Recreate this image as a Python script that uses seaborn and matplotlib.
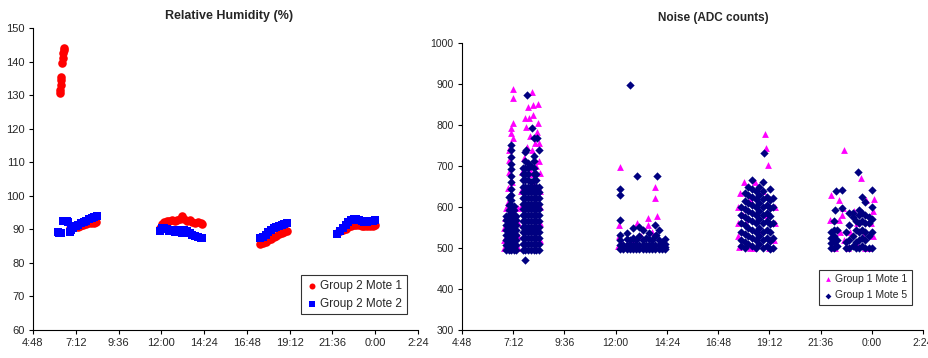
import pandas as pd
import matplotlib
matplotlib.use("Agg")
import matplotlib.pyplot as plt
import seaborn as sns
from matplotlib.ticker import FuncFormatter, MultipleLocator

# times are decimal hours of the day, values past 24 are after midnight

# Relative humidity (%), Group 2 Mote 1
rh_m1_spike = [(6.31, 130.5), (6.33, 131.5), (6.35, 133), (6.37, 134.5), (6.39, 135.5),
               (6.44, 139.5), (6.46, 141), (6.49, 142.5), (6.52, 143.5), (6.54, 144)]
rh_m1_morning = [(6.85, 90.3), (7.0, 90.5), (7.15, 90.6), (7.3, 90.8), (7.45, 91.0), (7.6, 91.3),
                 (7.75, 91.6), (7.9, 91.9), (8.05, 92.0), (8.2, 92.0), (8.35, 92.1)]
rh_m1_noon = [(11.95, 90.5), (12.05, 91.5), (12.15, 92.3), (12.3, 92.6), (12.45, 92.5), (12.6, 92.7),
              (12.75, 92.4), (12.9, 92.8), (13.05, 93.2), (13.17, 94.0), (13.3, 93.0), (13.45, 92.6),
              (13.6, 92.8), (13.75, 92.2), (13.9, 91.9), (14.05, 92.2), (14.2, 91.8), (14.3, 91.5)]
rh_m1_evening = [(17.56, 85.5), (17.7, 85.8), (17.85, 86.3), (18.0, 86.8), (18.15, 87.2), (18.3, 87.6),
                 (18.45, 88.1), (18.6, 88.5), (18.75, 88.9), (18.9, 89.3), (19.05, 89.5)]
rh_m1_night = [(21.88, 89.0), (22.05, 89.4), (22.2, 89.7), (22.35, 90.1), (22.5, 90.6), (22.65, 91.0),
               (22.8, 91.3), (22.95, 91.3), (23.1, 91.2), (23.25, 91.1), (23.4, 91.0), (23.55, 90.9),
               (23.7, 91.0), (23.85, 91.0), (24.0, 91.3)]

# Relative humidity (%), Group 2 Mote 2
rh_m2_morning = [(6.2, 89.3), (6.27, 89.0), (6.33, 88.8), (6.4, 89.0), (6.5, 92.5), (6.6, 92.4),
                 (6.7, 92.5), (6.78, 92.3), (6.85, 89.3), (6.95, 89.8), (7.05, 90.5), (7.2, 91.0),
                 (7.35, 91.4), (7.5, 91.8), (7.65, 92.2), (7.8, 92.6), (7.95, 93.0), (8.1, 93.3),
                 (8.25, 93.7), (8.4, 94.0)]
rh_m2_noon = [(11.95, 89.5), (12.05, 90.3), (12.15, 90.5), (12.3, 90.0), (12.45, 89.5), (12.6, 89.7),
              (12.75, 89.3), (12.9, 89.8), (13.05, 89.5), (13.17, 88.8), (13.3, 89.8), (13.45, 89.5),
              (13.6, 89.0), (13.75, 88.3), (13.9, 88.0), (14.05, 87.8), (14.2, 87.5), (14.3, 87.3)]
rh_m2_evening = [(17.56, 87.3), (17.7, 87.8), (17.85, 88.4), (18.0, 89.1), (18.15, 89.7), (18.3, 90.3),
                 (18.45, 90.7), (18.6, 91.1), (18.75, 91.4), (18.9, 91.6), (19.05, 91.8)]
rh_m2_night = [(21.88, 88.5), (22.05, 89.5), (22.2, 90.3), (22.35, 91.2), (22.5, 92.1), (22.65, 92.7),
               (22.8, 93.1), (22.95, 93.0), (23.1, 92.7), (23.25, 92.4), (23.4, 92.3), (23.55, 92.3),
               (23.7, 92.5), (23.85, 92.6), (24.0, 92.7)]

# Noise (ADC counts), Group 1 Mote 1 (visible points)
nz_m1_a = [(7.19, 889), (7.19, 865), (7.19, 804), (7.09, 792), (7.09, 780), (7.19, 768), (7.05, 747),
           (7.0, 715), (7.0, 686), (6.95, 646), (6.95, 613), (6.86, 597), (6.81, 572), (7.42, 597),
           (6.78, 550), (6.78, 520), (7.42, 560), (7.42, 530), (7.42, 500), (6.78, 500), (7.15, 660), (7.0, 740)]
nz_m1_b = [(8.07, 881), (7.88, 845), (8.12, 849), (8.36, 850), (8.12, 824), (7.75, 816), (7.93, 816),
           (8.36, 804), (7.79, 796), (8.31, 784), (7.98, 772), (8.22, 755), (8.4, 755), (7.84, 747),
           (8.07, 739), (8.4, 711), (8.45, 682), (7.61, 686), (8.03, 680), (8.12, 662), (7.97, 690),
           (8.47, 640), (8.47, 600), (8.47, 560), (7.58, 640), (7.58, 600), (8.25, 700), (7.7, 720), (8.47, 520)]
nz_m1_c = [(12.19, 697), (13.83, 648), (13.83, 621), (13.95, 579), (13.5, 574), (13.0, 562), (12.15, 556),
           (13.5, 556), (12.15, 530), (12.12, 505), (13.2, 530), (12.8, 520), (14.2, 510), (13.7, 540), (12.3, 510)]
nz_m1_d = [(19.02, 778), (19.03, 743), (19.13, 702), (18.0, 660), (18.55, 662), (17.85, 633), (17.8, 503),
           (18.5, 499), (17.75, 600), (17.75, 560), (17.75, 530), (19.45, 600), (19.45, 560), (19.4, 520),
           (18.3, 620), (18.9, 640), (18.1, 560), (18.7, 540), (19.1, 580), (18.3, 500), (19.2, 500), (17.95, 580)]
nz_m1_e = [(22.72, 739), (23.5, 670), (22.1, 629), (23.75, 617), (22.45, 617), (22.05, 568), (22.45, 568),
           (22.65, 597), (22.5, 540), (22.7, 520), (22.9, 500), (23.0, 540), (23.3, 560), (23.3, 510),
           (23.6, 530), (23.7, 500), (23.95, 560), (24.05, 530), (24.05, 590), (23.85, 500), (22.6, 580),
           (23.15, 590), (24.1, 620), (22.3, 500)]

# Noise (ADC counts), Group 1 Mote 5: dense columns (time -> readings) plus stray points
nz_m5_a_cols = [6.85, 6.98, 7.11, 7.23, 7.35]
nz_m5_a_vals = [[496, 508, 520, 532, 544, 556, 568, 578],
                [496, 508, 520, 532, 544, 556, 568, 580, 592, 604, 625],
                [496, 508, 520, 532, 544, 556, 568, 580, 592, 604, 616, 630, 645, 660, 676, 692, 705, 722, 738, 752],
                [496, 508, 520, 532, 544, 556, 568, 580, 592, 602],
                [496, 508, 520, 532, 544, 556, 568, 578]]
nz_m5_b_cols = [7.64, 7.77, 7.90, 8.03, 8.16, 8.29, 8.40]
nz_m5_b_vals = [[496, 510, 524, 538, 552, 566, 580, 594, 608, 622, 636, 650, 665, 680, 695],
                [496, 510, 524, 538, 552, 566, 580, 594, 608, 622, 636, 650, 665, 680, 695, 712, 733],
                [496, 510, 524, 538, 552, 566, 580, 594, 608, 622, 636, 650, 665, 680, 695, 708],
                [496, 510, 524, 538, 552, 566, 580, 594, 608, 622, 636, 650, 662, 700],
                [496, 510, 524, 538, 552, 566, 580, 594, 608, 622, 636, 650, 665, 680, 695, 712, 725],
                [496, 510, 524, 538, 552, 566, 580, 594, 608, 622, 636, 650, 665, 680],
                [496, 510, 524, 538, 552, 566, 580, 594, 608, 622, 636, 650]]
nz_m5_c_cols = [12.21, 12.36, 12.51, 12.66, 12.81, 12.96, 13.11, 13.26, 13.41, 13.56, 13.71, 13.86, 14.01, 14.16, 14.31]
nz_m5_c_vals = [[497, 508, 520], [497, 508], [497, 508, 522, 536], [497, 508, 520], [497, 508, 525, 548],
                [497, 508, 520], [497, 508, 530, 552], [497, 508, 520, 544], [497, 508, 525], [497, 508, 522, 536],
                [497, 508, 520], [497, 508, 530, 556], [497, 508, 520, 544], [497, 508, 515], [497, 503, 510, 521]]
nz_m5_d_cols = [17.88, 18.05, 18.22, 18.39, 18.56, 18.73, 18.90, 19.07, 19.24, 19.36]
nz_m5_d_vals = [[505, 520, 540, 560, 580, 600],
                [500, 515, 535, 555, 575, 595, 615, 635],
                [510, 530, 550, 570, 590, 610, 630, 650],
                [505, 525, 545, 565, 585, 605, 625, 645, 666],
                [500, 520, 540, 560, 580, 600, 620, 640],
                [510, 530, 550, 570, 590, 610, 630, 650],
                [500, 520, 540, 560, 580, 600, 620, 640, 662],
                [505, 525, 545, 565, 585, 605, 625],
                [498, 518, 538, 558, 578, 598, 618, 645],
                [500, 525, 560, 599, 621]]
nz_m5_e_cols = [22.1, 22.22, 22.35, 22.8, 22.95, 23.1, 23.25, 23.4, 23.55, 23.7, 23.85, 24.0]
nz_m5_e_vals = [[500, 512, 525, 540], [500, 515, 530, 545, 565], [505, 520, 545], [500, 515, 540],
                [500, 520, 555, 585], [505, 530, 576], [500, 515, 545, 565], [500, 520, 540, 560, 580, 593],
                [505, 525, 545, 565, 585, 625], [500, 520, 540, 560, 580, 613], [500, 530, 560, 575],
                [500, 540, 570, 601, 641]]
nz_m5_strays = [(7.84, 873), (8.07, 792), (8.17, 769), (8.31, 769), (8.40, 739), (7.75, 471), (7.8, 739),
                (12.22, 532), (12.22, 568), (12.22, 629), (12.22, 643), (13.02, 676), (13.95, 676),
                (12.69, 898), (13.91, 532), (18.97, 732), (22.28, 593), (22.33, 640), (22.6, 641),
                (22.6, 597), (23.37, 686), (23.1, 585)]


def pairs_df(*groups):
    rows = [p for g in groups for p in g]
    return pd.DataFrame(rows, columns=["hour", "value"])


def cols_df(cols, vals):
    rows = [(c, v) for c, vs in zip(cols, vals) for v in vs]
    return pd.DataFrame(rows, columns=["hour", "value"])


rh_m1 = pairs_df(rh_m1_spike, rh_m1_morning, rh_m1_noon, rh_m1_evening, rh_m1_night)
rh_m2 = pairs_df(rh_m2_morning, rh_m2_noon, rh_m2_evening, rh_m2_night)
nz_m1 = pairs_df(nz_m1_a, nz_m1_b, nz_m1_c, nz_m1_d, nz_m1_e)
nz_m5 = pd.concat([cols_df(nz_m5_a_cols, nz_m5_a_vals), cols_df(nz_m5_b_cols, nz_m5_b_vals),
                   cols_df(nz_m5_c_cols, nz_m5_c_vals), cols_df(nz_m5_d_cols, nz_m5_d_vals),
                   cols_df(nz_m5_e_cols, nz_m5_e_vals), pairs_df(nz_m5_strays)], ignore_index=True)

sns.set_style("white")
plt.rcParams['font.family'] = ['Liberation Sans', 'DejaVu Sans']


def clock(h, pos):
    m = int(round(h * 60)) % 1440
    return f"{m // 60}:{m % 60:02d}"


def style_axes(ax, fs):
    for side in ["top", "right"]:
        ax.spines[side].set_visible(False)
    for side in ["left", "bottom"]:
        ax.spines[side].set_color("black")
        ax.spines[side].set_linewidth(0.8)
    ax.set_xlim(4.8, 26.4)
    ax.xaxis.set_major_locator(MultipleLocator(2.4))
    ax.xaxis.set_major_formatter(FuncFormatter(clock))
    ax.tick_params(direction="out", length=3, width=0.8, color="black", labelsize=fs, pad=3,
                   left=True, bottom=True)
    ax.set_xlabel("")
    ax.set_ylabel("")


fig = plt.figure(figsize=(9.29, 3.58), dpi=100)
ax1 = fig.add_axes([0.0355, 0.0782, 0.4144, 0.8436])
ax2 = fig.add_axes([0.4973, 0.0782, 0.4962, 0.8017])

sns.scatterplot(data=rh_m1, x="hour", y="value", ax=ax1, color="#ff0000", marker="o", s=38,
                linewidth=0, label="Group 2 Mote 1")
sns.scatterplot(data=rh_m2, x="hour", y="value", ax=ax1, color="#0000ff", marker="s", s=30,
                linewidth=0, label="Group 2 Mote 2")
style_axes(ax1, 8)
ax1.set_ylim(60, 150)
ax1.yaxis.set_major_locator(MultipleLocator(10))
ax1.legend(loc="upper right", bbox_to_anchor=(0.971, 0.182), borderaxespad=0, fontsize=8.5,
           frameon=True, fancybox=False, edgecolor="black", handletextpad=0.2, handlelength=1,
           borderpad=0.4, labelspacing=0.5, markerscale=0.7).get_frame().set_linewidth(0.8)

sns.scatterplot(data=nz_m1, x="hour", y="value", ax=ax2, color="#ff00ff", marker="^", s=24,
                linewidth=0, label="Group 1 Mote 1")
sns.scatterplot(data=nz_m5, x="hour", y="value", ax=ax2, color="#000080", marker="D", s=18,
                linewidth=0, label="Group 1 Mote 5")
style_axes(ax2, 7.5)
ax2.set_ylim(300, 1000)
ax2.yaxis.set_major_locator(MultipleLocator(100))
ax2.legend(loc="upper right", bbox_to_anchor=(0.976, 0.209), borderaxespad=0, fontsize=7.5,
           frameon=True, fancybox=False, edgecolor="black", handletextpad=0.2, handlelength=1,
           borderpad=0.4, labelspacing=0.6, markerscale=0.7).get_frame().set_linewidth(0.8)

fig.text(229 / 929, 1 - 16.5 / 358, "Relative Humidity (%)", ha="center", va="center",
         fontsize=9, fontweight="bold")
fig.text(713 / 929, 1 - 18.5 / 358, "Noise (ADC counts)", ha="center", va="center",
         fontsize=8.5, fontweight="bold")

fig.savefig("out.png", dpi=100)
